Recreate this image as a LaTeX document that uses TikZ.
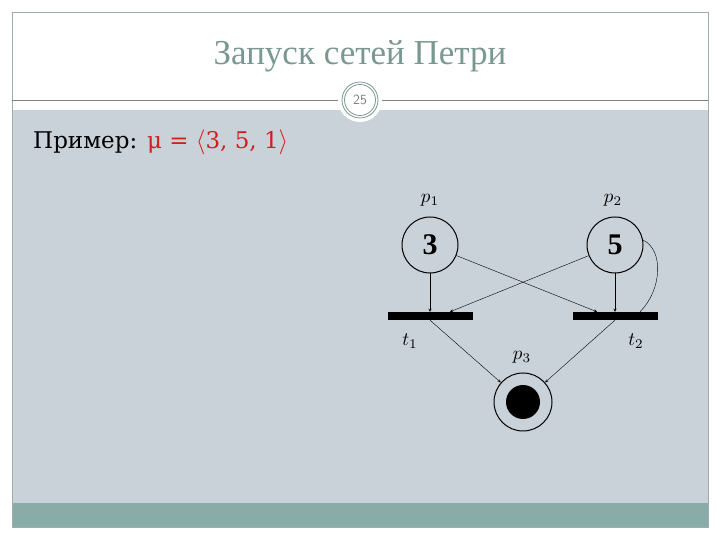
\documentclass[tikz,border=0pt]{standalone}
\usepackage{amsmath}
\usepackage{fontspec}
\setmainfont{Liberation Serif}
\newfontfamily\bodyfont{DejaVu Serif}
\usetikzlibrary{calc}
\tikzset{>=stealth}
\definecolor{bodygray}{RGB}{200,210,216}
\definecolor{bandteal}{RGB}{138,172,169}
\definecolor{titlegreen}{RGB}{122,152,146}
\definecolor{framegray}{RGB}{160,172,172}
\definecolor{netred}{RGB}{210,30,30}
\newcommand{\tok}[1]{\scalebox{3}{$\mathbf{#1}$}}
\newcommand{\nlbl}[2]{\scalebox{1.9}{$#1_{#2}$}}
\tikzset{
  place/.style={circle,draw,line width=1pt,minimum size=56pt,inner sep=0pt},
  trans/.style={rectangle,fill=black,minimum width=85pt,minimum height=8pt,inner sep=0pt},
  arc/.style={thin,->}
}

\begin{document}
\begin{tikzpicture}[x=1pt,y=1pt]
      \useasboundingbox (0,0) rectangle (720,540);
      \fill[white] (0,0) rectangle (720,540);
      % slide frame
      \fill[bodygray] (12,37) rectangle (708,430);
      \fill[bandteal] (12,13) rectangle (708,37);
      \draw[framegray,line width=0.8pt] (12,13) rectangle (708,528);
      \draw[gray,line width=0.8pt] (12,440) -- (708,440);
      \fill[white] (360,440) circle (22);
      \draw[titlegreen,line width=0.8pt] (360,440) circle (18);
      \draw[titlegreen,line width=0.8pt] (360,440) circle (15.5);
      \node[text=gray,font=\fontsize{14}{14}\selectfont\sffamily] (num) at (360,440) {25};
      \node[text=titlegreen,font=\fontsize{35}{35}\selectfont] (title) at (360,484) {Запуск сетей Петри};
      \node[anchor=base west,inner sep=0pt,font=\fontsize{23}{23}\selectfont\bodyfont] (ex) at (33,391)
        {Пример: \textcolor{netred}{μ = $\langle$3, 5, 1$\rangle$}};
      % places
      \node[place] (p1) at (430,295) {\tok{3}};
      \node[place] (p2) at (615,295) {\tok{5}};
      \node[place,minimum size=58pt] (p3) at (523,138) {};
      \fill (p3) circle (17);
      \node (lp1) at (430,340) {\nlbl{p}{1}};
      \node (lp2) at (613,340) {\nlbl{p}{2}};
      \node (lp3) at (522,183) {\nlbl{p}{3}};
      % transitions
      \node[trans] (t1) at (430,224) {};
      \node[trans] (t2) at (615,224) {};
      \node (lt1) at (410,199) {\nlbl{t}{1}};
      \node (lt2) at (636,199) {\nlbl{t}{2}};
      % arcs
      \draw[arc] (p1) -- (t1.north);
      \draw[arc] (p2) -- (t2.north);
      \draw[arc] (p2) -- ($(t1.north)+(20,0)$);
      \draw[arc] (p1) -- ($(t2.north)+(-18,0)$);
      \draw[arc] (t1.south) -- (p3);
      \draw[arc] (t2.south) -- (p3);
      \draw[thin] ($(t2.north)+(25,0)$) .. controls (662,250) and (664,290) .. (p2.10);
\end{tikzpicture}
\end{document}
